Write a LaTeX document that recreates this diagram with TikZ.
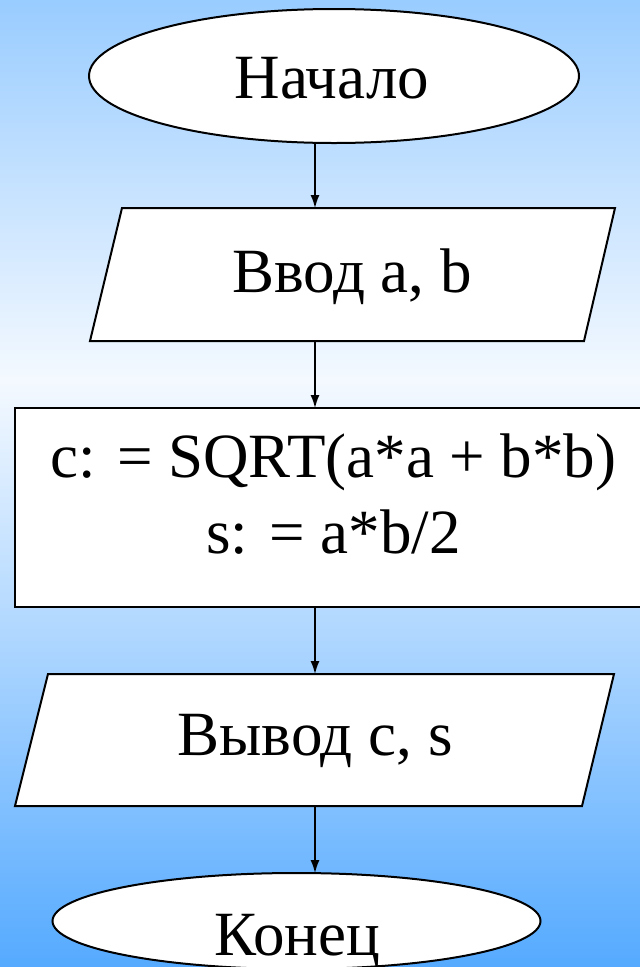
\documentclass[tikz,border=0pt]{standalone}
\usepackage{fontspec}
\setmainfont{Liberation Serif}
\usetikzlibrary{shapes.geometric,arrows.meta}
\definecolor{bgtop}{RGB}{153,204,255}
\definecolor{bgmid}{RGB}{244,249,255}
\definecolor{bgbot}{RGB}{85,170,255}
\begin{document}
\begin{tikzpicture}[x=1pt,y=-1pt,
  shapeline/.style={draw=black,line width=2pt,fill=white},
  term/.style={shapeline,ellipse,inner sep=0pt,outer sep=0pt},
  lbl/.style={anchor=base,inner sep=0pt,font=\fontsize{63}{76}\selectfont},
  flow/.style={line width=1.5pt,-{Latex[length=13pt,width=9pt]}}]
\useasboundingbox (0,0) rectangle (640,967);
\clip (0,0) rectangle (640,967);
\shade[top color=bgtop,bottom color=bgmid] (0,0) rectangle (640,381);
\shade[top color=bgmid,bottom color=bgbot] (0,380) rectangle (640,967);

% start
\node[term,minimum width=490pt,minimum height=134pt] (start) at (334,76) {};
\node[lbl] (tstart) at (332,98) {Начало};

% input
\draw[shapeline] (122,208) -- (615,208) -- (584,341) -- (90,341) -- cycle;
\coordinate (in1t) at (315,208);
\coordinate (in1b) at (315,341);
\node[lbl] (tin) at (352,292) {Ввод a, b};

% process
\node[shapeline,rectangle,minimum width=660pt,minimum height=199pt,inner sep=0pt,outer sep=0pt] (calc) at (345,507.5) {};
\node[lbl] (tc1) at (333.5,477) {c: = SQRT(a*a + b*b)};
\node[lbl] (tc2) at (333.5,553) {s: = a*b/2};

% output
\draw[shapeline] (48,674) -- (614,674) -- (582,806) -- (15,806) -- cycle;
\coordinate (out1t) at (315,674);
\coordinate (out1b) at (315,806);
\node[lbl] (tout) at (315,755) {Вывод c, s};

% end
\node[term,minimum width=488pt,minimum height=96pt] (stop) at (296.5,921) {};
\node[lbl] (tstop) at (297,955) {Конец};

% connectors
\draw[flow] (start.south -| in1t) -- (in1t);
\draw[flow] (in1b) -- (calc.north -| in1b);
\draw[flow] (calc.south -| out1t) -- (out1t);
\draw[flow] (out1b) -- (stop.north -| out1b);
\end{tikzpicture}
\end{document}
